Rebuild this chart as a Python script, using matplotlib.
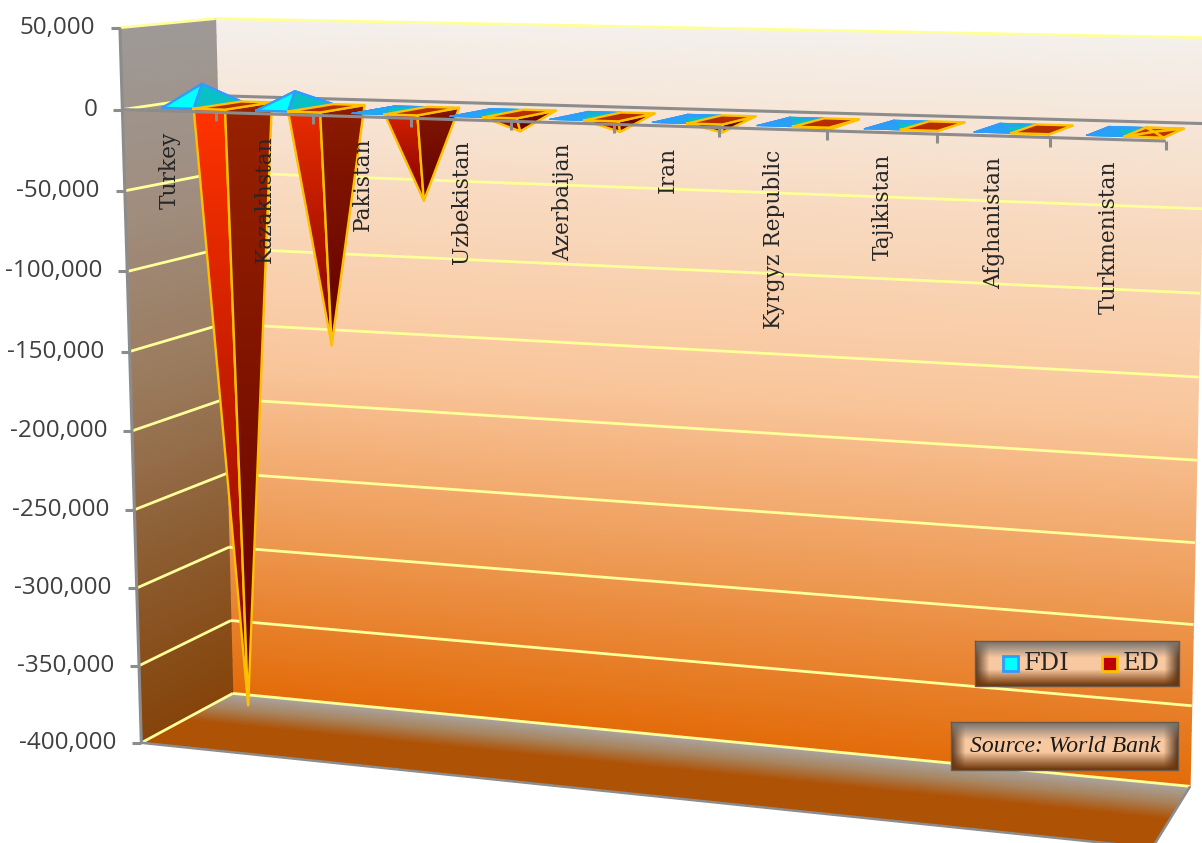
import numpy as np
import matplotlib
matplotlib.use("Agg")
import matplotlib.pyplot as plt
from matplotlib.colors import LinearSegmentedColormap, to_rgb

countries = ["Turkey", "Kazakhstan", "Pakistan", "Uzbekistan", "Azerbaijan", "Iran",
             "Kyrgyz Republic", "Tajikistan", "Afghanistan", "Turkmenistan"]
fdi = [13000, 10000, 2000, 1500, 1200, 1300, 1000, 800, 900, 1300]
ed = [-385000, -148000, -55000, -10500, -9000, -7500, -4500, -1500, -1000, 400]
value_ticks = [50000, 0, -50000, -100000, -150000, -200000, -250000, -300000, -350000, -400000]
tick_labels = ["50,000", "0", "-50,000", "-100,000", "-150,000", "-200,000", "-250,000",
               "-300,000", "-350,000", "-400,000"]

VMAX, VMIN = 50000, -400000
N = len(countries)

# frame corners of the 3d box: (category pos, value, depth) -> pixel position
FRAME = [
    (0, VMAX, 0, 119, 28), (0, 0, 0, 122, 110), (0, VMIN, 0, 141, 742),
    (0, VMAX, 1, 217, 18), (0, VMIN, 1, 233, 694),
    (N, VMAX, 1, 1202, 36), (N, VMIN, 1, 1192, 788),
    (N, 0, 0, 1170, 143), (N, VMIN, 0, 1150, 846),
]


def fit_projection(frame):
    rows, rhs = [], []
    for x, v, z, px, py in frame:
        p = [x, v / 50000, z, 1]
        rows.append(p + [0, 0, 0, 0] + [-px * c for c in p[:3]])
        rhs.append(px)
        rows.append([0, 0, 0, 0] + p + [-py * c for c in p[:3]])
        rhs.append(py)
    sol = np.linalg.lstsq(np.array(rows, float), np.array(rhs, float), rcond=None)[0]
    return np.append(sol, 1).reshape(3, 4)


P = fit_projection(FRAME)


def project(x, v, z):
    x, v, z = np.broadcast_arrays(np.asarray(x, float), np.asarray(v, float), np.asarray(z, float))
    pts = np.stack([x, v / 50000, z, np.ones_like(x)])
    res = np.tensordot(P, pts, axes=1)
    return res[0] / res[2], res[1] / res[2]


fig = plt.figure(figsize=(12.02, 8.43), dpi=100)
ax = fig.add_axes([0, 0, 1, 1])


def surface(x, v, z, t, colors, zorder):
    cmap = LinearSegmentedColormap.from_list("surf", colors)
    px, py = project(x, v, z)
    ax.pcolormesh(px, py, t, shading="gouraud", cmap=cmap, vmin=0, vmax=1, zorder=zorder)


def line3d(x, v, z, **kw):
    px, py = project(x, v, z)
    ax.plot(px, py, solid_capstyle="butt", **kw)


# back wall, side wall and floor
gx, gv = np.meshgrid(np.linspace(0, N, 30), np.linspace(VMAX, VMIN, 40))
surface(gx, gv, np.ones_like(gx), (VMAX - gv) / (VMAX - VMIN),
        ["#f4f0ec", "#f8d9bf", "#f9c69c", "#ee9a55", "#e36c0a"], 1)
gz, gv = np.meshgrid(np.linspace(0, 1, 10), np.linspace(VMAX, VMIN, 40))
surface(np.zeros_like(gz), gv, gz, (VMAX - gv) / (VMAX - VMIN),
        ["#9e9a97", "#a08d7e", "#9a7a5c", "#8c5c30", "#85440a"], 1)
gx, gz = np.meshgrid(np.linspace(0, N, 30), np.linspace(0, 1, 30))
surface(gx, np.full_like(gx, VMIN), gz, np.clip((1 - gz) / 0.55, 0, 1),
        ["#a9a5a2", "#a88560", "#ae5206"], 1)

GRID = "#ffff99"
AXIS = "#8c8c8c"
for v in value_ticks:
    line3d([0, 0], [v, v], [0, 1], color=GRID, lw=2, zorder=2)
    if v != 0:
        line3d([0, N], [v, v], [1, 1], color=GRID, lw=2, zorder=2)
line3d([0, N], [0, 0], [1, 1], color=AXIS, lw=2.2, zorder=2)

# box outline
line3d([0, 0], [VMAX, VMIN], [0, 0], color=AXIS, lw=2.2, zorder=3)
line3d([0, N, N], [VMIN, VMIN, VMIN], [0, 0, 1], color=AXIS, lw=1.8, zorder=3)

LEFT_CM = ["#ff3300", "#e02800", "#b80e00", "#7c0000"]
RIGHT_CM = ["#982200", "#801400", "#600000"]
CYAN_CM = ["#00ffff", "#00e6f0", "#10b4f0", "#2a9df4"]
BAR_W = 0.335
Z0, Z1 = 0.17, 0.68


def face(xs, vs, zs, t, colors, zorder, edge, lw):
    px, py = project(xs, vs, zs)
    cmap = LinearSegmentedColormap.from_list("face", colors)
    ax.tripcolor(px, py, [[0, 1, 2]], t, shading="gouraud", cmap=cmap, vmin=0, vmax=1, zorder=zorder)
    ax.plot(np.r_[px, px[0]], np.r_[py, py[0]], color=edge, lw=lw, zorder=zorder, solid_joinstyle="round")


def pyramid(x0, value, colors, edge, top_color, zorder, lw):
    x1 = x0 + BAR_W
    xm, zm = (x0 + x1) / 2, (Z0 + Z1) / 2
    fl, fr, br, bl = (x0, Z0), (x1, Z0), (x1, Z1), (x0, Z1)

    def tri(a, b, t0, t1, cols, z):
        face([a[0], b[0], xm], [0, 0, value], [a[1], b[1], zm], [t0, t0, t1], cols, z, edge, lw)

    bx, by = project([x0, x1, x1, x0], np.zeros(4), [Z0, Z0, Z1, Z1])
    size = (abs(value) / 385000) ** 0.3
    if value >= 0:
        ax.fill(bx, by, facecolor=top_color, edgecolor=edge, lw=lw, zorder=zorder)
        tone = np.clip(1 - value / 8000, 0, 1)
        tri(bl, fl, 1, 1, colors[2], zorder)
        tri(br, bl, 0.5, 0.5, colors[1], zorder)
        tri(fl, fr, tone, tone, colors[0], zorder)
        tri(fr, br, 0.5, 0.5, colors[1], zorder)
    else:
        tone = 1 - size
        tri(fl, fr, tone, 1, colors[0], zorder)
        tri(fr, br, tone, 1, colors[1], zorder)
        ax.fill(bx, by, facecolor=top_color, edgecolor=edge, lw=lw, zorder=zorder)


for i in range(N):
    c = i + 0.25
    fdi_lw = 1.6 if fdi[i] > 5000 else 0.9
    pyramid(c, fdi[i], (CYAN_CM, ["#00c4c4", "#10bcc8"], ["#2a9df4", "#2a9df4"]), "#3399ff", "#2a9df4",
            5 + 2 * i, fdi_lw)
    if ed[i] >= 0:
        ed_cols = (["#c03000", "#c03000"], ["#c03000", "#c03000"], ["#c03000", "#c03000"])
    else:
        ed_cols = (LEFT_CM, RIGHT_CM, RIGHT_CM)
    pyramid(c + BAR_W, ed[i], ed_cols, "#ffc000", "#b52d00", 6 + 2 * i, 1.7)

# front zero line with category ticks on top of the pyramids
line3d([0, N], [0, 0], [0, 0], color=AXIS, lw=2.2, zorder=30)
for i in range(1, N + 1):
    tx, ty = project(i, 0, 0)
    ax.plot([tx, tx], [ty, ty + 9], color=AXIS, lw=2.2, zorder=30, solid_capstyle="butt")

for v, lab in zip(value_ticks, tick_labels):
    tx, ty = project(0, v, 0)
    ax.plot([tx - 9, tx], [ty, ty], color=AXIS, lw=2.2, zorder=30, solid_capstyle="butt")
    ax.text(tx - 25, ty, lab, ha="right", va="center", fontsize=17.5, family="Open Sans",
            color="#404040", zorder=31)

for i, name in enumerate(countries):
    tx, ty = project(i + 0.5, 0, 0)
    ax.text(tx + 1, ty + 21, name, rotation=90, ha="center", va="top", fontsize=15.7,
            family="DejaVu Serif", color="#262626", zorder=31)


def bevel_box(x0, y0, x1, y1, zorder):
    h, w = int(y1 - y0), int(x1 - x0)
    yy, xx = np.mgrid[0:h, 0:w]
    vert = (yy + 0.5) / h
    core = np.array(to_rgb("#f8c8a0"))
    top = np.array(to_rgb("#76736f"))
    bottom = np.array(to_rgb("#6e3408"))
    side = np.array(to_rgb("#6d4a2e"))
    img = np.ones((h, w, 3)) * core
    band = h * 0.36
    dt = np.clip(yy / band, 0, 1)[..., None]
    db = np.clip((h - 1 - yy) / band, 0, 1)[..., None]
    dl = np.clip(np.minimum(xx, w - 1 - xx) / 14, 0, 1)[..., None]
    img = img * dl + side * (1 - dl) * (1 - vert[..., None] * 0.3)
    img = img * dt + top * (1 - dt)
    img = img * db + bottom * (1 - db)
    ax.imshow(img, extent=(x0, x1, y1, y0), aspect="auto", zorder=zorder, interpolation="bilinear")
    ax.plot([x0, x1, x1, x0, x0], [y0, y0, y1, y1, y0], color="#6b5a4a", lw=1, zorder=zorder)


# legend and source boxes
bevel_box(975, 641, 1179, 686, 40)
for mx, fc, ec, lab in [(1003, "#00ffff", "#3399ff", "FDI"), (1102, "#c00000", "#ffc000", "ED")]:
    ax.fill([mx, mx + 15, mx + 15, mx], [656, 656, 671, 671], facecolor=fc, edgecolor=ec, lw=2, zorder=41)
    ax.text(mx + 21, 663.5, lab, ha="left", va="center", fontsize=17.4, family="DejaVu Serif",
            color="#262626", zorder=41)
bevel_box(951, 722, 1178, 770, 40)
ax.text(1065, 747, "Source: World Bank", ha="center", va="center", fontsize=17, style="italic",
        family="Liberation Serif", color="#1a1a1a", zorder=41)

ax.set_xlim(0, 1202)
ax.set_ylim(843, 0)
ax.axis("off")
fig.savefig("out.png", dpi=100)
